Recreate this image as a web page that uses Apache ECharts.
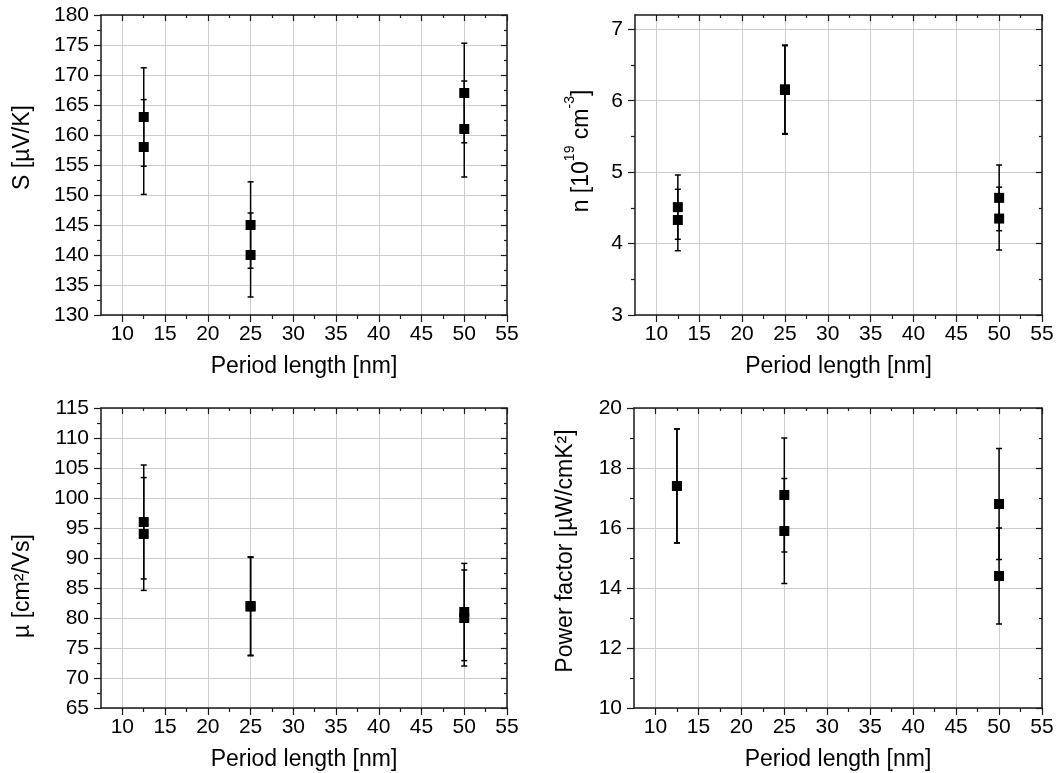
<!DOCTYPE html>
<html>
<head>
<meta charset="utf-8">
<script src="https://cdn.jsdelivr.net/npm/echarts@6/dist/echarts.min.js"></script>
<style>
  html, body { margin: 0; padding: 0; background: #fff; }
  #chart { width: 1059px; height: 773px; }
</style>
</head>
<body>
<div id="chart"></div>
<script>
// Period length of each sample [nm]
const periodLength = [12.5, 12.5, 25, 25, 50, 50];

// Seebeck coefficient S [µV/K]
const seebeck    = [163, 158, 145, 140, 167, 161];
const seebeckErr = [8.2, 7.9, 7.2, 7.0, 8.3, 8.0];

// Carrier density n [1e19 cm^-3]
const density    = [4.51, 4.33, 6.16, 6.15, 4.64, 4.35];
const densityErr = [0.45, 0.43, 0.62, 0.62, 0.46, 0.44];

// Mobility µ [cm²/Vs]
const mobility    = [96, 94, 82, 81.9, 81, 80];
const mobilityErr = [9.5, 9.4, 8.2, 8.2, 8.1, 8.0];

// Power factor [µW/cmK²]
const powerFactor    = [17.4, 17.4, 17.1, 15.9, 16.8, 14.4];
const powerFactorErr = [1.9, 1.9, 1.9, 1.75, 1.85, 1.6];

// Tick values
const xMajor = [10, 15, 20, 25, 30, 35, 40, 45, 50, 55];
const xMinor = [12.5, 17.5, 22.5, 27.5, 32.5, 37.5, 42.5, 47.5, 52.5];
const sMajor = [130, 135, 140, 145, 150, 155, 160, 165, 170, 175, 180];
const sMinor = [132.5, 137.5, 142.5, 147.5, 152.5, 157.5, 162.5, 167.5, 172.5, 177.5];
const nMajor = [3, 4, 5, 6, 7];
const nMinor = [3.5, 4.5, 5.5, 6.5];
const muMajor = [65, 70, 75, 80, 85, 90, 95, 100, 105, 110, 115];
const muMinor = [67.5, 72.5, 77.5, 82.5, 87.5, 92.5, 97.5, 102.5, 107.5, 112.5];
const pfMajor = [10, 12, 14, 16, 18, 20];
const pfMinor = [11, 13, 15, 17, 19];

const FONT = "'Liberation Sans', Arial, Helvetica, sans-serif";
const AXIS_COLOR = '#1a1a1a';
const GRID_COLOR = '#cdcdcd';

const panels = [
  { grid: { left: 101, top: 15, width: 406, height: 300 },
    yMin: 130, yMax: 180, yMajor: sMajor, yMinor: sMinor,
    name: 'S [µV/K]', nameGap: 67, namePad: [0, 0, 0, 35],
    values: seebeck, errors: seebeckErr },
  { grid: { left: 635, top: 15, width: 407, height: 300 },
    yMin: 3, yMax: 7.2, yMajor: nMajor, yMinor: nMinor,
    name: '{m|n [10}{s|19}{m| cm}{s|-3}{m|]}', nameGap: 42, namePad: [0, 0, 0, 28],
    values: density, errors: densityErr },
  { grid: { left: 101, top: 408, width: 406, height: 300 },
    yMin: 65, yMax: 115, yMajor: muMajor, yMinor: muMinor,
    name: 'µ [cm²/Vs]', nameGap: 67, namePad: [0, 56, 0, 0],
    values: mobility, errors: mobilityErr },
  { grid: { left: 634, top: 408, width: 408, height: 300 },
    yMin: 10, yMax: 20, yMajor: pfMajor, yMinor: pfMinor,
    name: 'Power factor [µW/cmK²]', nameGap: 57, namePad: [0, 0, 0, 14],
    values: powerFactor, errors: powerFactorErr }
];

const lineStyle = { color: AXIS_COLOR, width: 1.5 };

function tickAxis(gi, position, min, max, values, len, inside, showLine) {
  return {
    gridIndex: gi, type: 'value', position: position, min: min, max: max,
    axisLine: { show: showLine, onZero: false, lineStyle: lineStyle },
    axisTick: { show: true, inside: inside, length: len, customValues: values,
                lineStyle: { color: AXIS_COLOR, width: 1.2 } },
    axisLabel: { show: false },
    splitLine: { show: false },
    silent: true
  };
}

const xAxes = [];
const yAxes = [];
const series = [];

panels.forEach(function (p, gi) {
  // bottom axis with labels and grid lines
  xAxes.push({
    gridIndex: gi, type: 'value', position: 'bottom', min: 7.5, max: 55,
    axisLine: { show: true, onZero: false, lineStyle: lineStyle },
    axisTick: { show: true, inside: false, length: 7, customValues: xMajor,
                lineStyle: { color: AXIS_COLOR, width: 1.2 } },
    axisLabel: { customValues: xMajor, margin: 9, fontSize: 21, color: '#000', fontFamily: FONT },
    splitLine: { show: true, lineStyle: { color: GRID_COLOR, width: 1 } },
    name: 'Period length [nm]', nameLocation: 'middle', nameGap: 40,
    nameTextStyle: { fontSize: 23, color: '#000', fontFamily: FONT }
  });
  xAxes.push(tickAxis(gi, 'bottom', 7.5, 55, xMinor, 4, false, false));
  xAxes.push(tickAxis(gi, 'top', 7.5, 55, xMajor, 6, true, true));
  xAxes.push(tickAxis(gi, 'top', 7.5, 55, xMinor, 3, true, false));

  // left axis with labels and grid lines
  yAxes.push({
    gridIndex: gi, type: 'value', position: 'left', min: p.yMin, max: p.yMax,
    axisLine: { show: true, onZero: false, lineStyle: lineStyle },
    axisTick: { show: true, inside: false, length: 7, customValues: p.yMajor,
                lineStyle: { color: AXIS_COLOR, width: 1.2 } },
    axisLabel: { customValues: p.yMajor, margin: 12, fontSize: 21, color: '#000', fontFamily: FONT },
    splitLine: { show: true, lineStyle: { color: GRID_COLOR, width: 1 } },
    name: p.name, nameLocation: 'middle', nameGap: p.nameGap,
    nameTextStyle: {
      fontSize: 23, color: '#000', fontFamily: FONT, padding: p.namePad,
      rich: {
        m: { fontSize: 23, color: '#000', fontFamily: FONT, lineHeight: 30, verticalAlign: 'bottom' },
        s: { fontSize: 14, color: '#000', fontFamily: FONT, lineHeight: 30, verticalAlign: 'top' }
      }
    }
  });
  yAxes.push(tickAxis(gi, 'left', p.yMin, p.yMax, p.yMinor, 4, false, false));
  yAxes.push(tickAxis(gi, 'right', p.yMin, p.yMax, p.yMajor, 6, true, true));
  yAxes.push(tickAxis(gi, 'right', p.yMin, p.yMax, p.yMinor, 3, true, false));

  const errData = p.values.map(function (v, i) {
    return [periodLength[i], v - p.errors[i], v + p.errors[i]];
  });
  const ptData = p.values.map(function (v, i) { return [periodLength[i], v]; });

  series.push({
    type: 'custom', xAxisIndex: gi * 4, yAxisIndex: gi * 4, z: 3, silent: true,
    encode: { x: 0, y: [1, 2] },
    data: errData,
    renderItem: function (params, api) {
      const lo = api.coord([api.value(0), api.value(1)]);
      const hi = api.coord([api.value(0), api.value(2)]);
      const hw = 3;
      const st = { stroke: '#000', lineWidth: 1.5 };
      return {
        type: 'group',
        children: [
          { type: 'line', shape: { x1: hi[0], y1: hi[1], x2: lo[0], y2: lo[1] }, style: st },
          { type: 'line', shape: { x1: hi[0] - hw, y1: hi[1], x2: hi[0] + hw, y2: hi[1] }, style: st },
          { type: 'line', shape: { x1: lo[0] - hw, y1: lo[1], x2: lo[0] + hw, y2: lo[1] }, style: st }
        ]
      };
    }
  });
  series.push({
    type: 'scatter', xAxisIndex: gi * 4, yAxisIndex: gi * 4, z: 4, silent: true,
    symbol: 'rect', symbolSize: 10,
    itemStyle: { color: '#000', opacity: 1 },
    data: ptData
  });
});

const chart = echarts.init(document.getElementById('chart'), null, { renderer: 'canvas' });
chart.setOption({
  backgroundColor: '#fff',
  animation: false,
  grid: panels.map(function (p) { return Object.assign({ containLabel: false }, p.grid); }),
  xAxis: xAxes,
  yAxis: yAxes,
  series: series
});
</script>
</body>
</html>
